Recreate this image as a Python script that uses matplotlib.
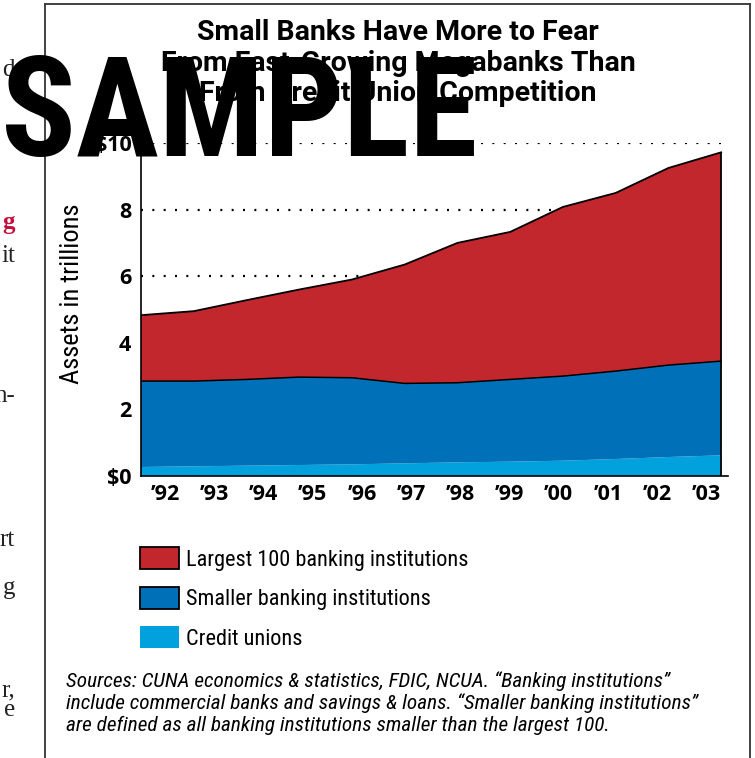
"""Stacked area chart: bank and credit union assets, 1992-2003."""
import numpy as np
import matplotlib.pyplot as plt
from matplotlib.patches import Patch
from matplotlib.lines import Line2D

# Values (trillions of dollars).
year_labels = ["\u201992", "\u201993", "\u201994", "\u201995", "\u201996", "\u201997",
               "\u201998", "\u201999", "\u201900", "\u201901", "\u201902", "\u201903"]
credit_unions = [0.27, 0.29, 0.31, 0.33, 0.35, 0.38, 0.41, 0.43, 0.46, 0.51, 0.57, 0.62]
smaller_banks = [2.58, 2.56, 2.59, 2.64, 2.60, 2.40, 2.39, 2.47, 2.54, 2.64, 2.76, 2.83]
largest_100 = [1.98, 2.10, 2.38, 2.63, 2.95, 3.57, 4.20, 4.43, 5.08, 5.35, 5.92, 6.27]
y_ticks = [0, 2, 4, 6, 8, 10]
y_tick_labels = ["$0", "2", "4", "6", "8", "$10"]
legend_labels = ["Largest 100 banking institutions", "Smaller banking institutions",
                 "Credit unions"]
# Cut-off text of the neighbouring article on the left edge.
side_words = ["d", "g", "it", "n-", "rt", "g", "r,", "e"]
side_rows = [70, 222, 256, 396, 540, 588, 690, 710]

RED = "#c1272d"
BLUE = "#0071b8"
LIGHT = "#00a1dc"
NARROW = ["Roboto Condensed", "Liberation Sans Narrow", "DejaVu Sans"]
PLAIN = ["Roboto", "DejaVu Sans"]
BOLD_SANS = ["Open Sans", "DejaVu Sans"]

W, H = 755, 758
fig = plt.figure(figsize=(W / 100, H / 100), dpi=100)


def fx(px):
    return px / W


def fy(py):
    return 1 - py / H


x = np.arange(len(year_labels))
ax = fig.add_axes([fx(141), fy(476), fx(728 - 141), (476 - 143) / H])
ax.stackplot(x, credit_unions, smaller_banks, largest_100,
             colors=[LIGHT, BLUE, RED], linewidth=0, zorder=2)

# Black outlines on the two upper boundaries and the right edge.
blue_top = np.array(credit_unions) + np.array(smaller_banks)
total = blue_top + np.array(largest_100)
ax.plot(x, blue_top, color="black", lw=1.1, zorder=3)
ax.plot(x, total, color="black", lw=1.3, zorder=3)
ax.vlines(x[-1], 0, total[-1], color="black", lw=1.3, zorder=3)

ax.set_xlim(0, 11.13)
ax.set_ylim(0, 10)
ax.set_yticks(y_ticks)
ax.set_yticklabels(y_tick_labels)
ax.set_xticks(np.linspace(0.455, 10.72, len(year_labels)))
ax.set_xticklabels(year_labels)
ax.tick_params(length=0, labelsize=15.5)
ax.tick_params(axis="y", pad=7)
ax.tick_params(axis="x", pad=6)
for lab in ax.get_xticklabels() + ax.get_yticklabels():
    lab.set_family(BOLD_SANS)
    lab.set_fontweight("bold")

ax.grid(axis="y", color="black", lw=1.6, linestyle=(0, (0.9, 4.2)), zorder=0)
ax.set_axisbelow(True)
for side in ["top", "right"]:
    ax.spines[side].set_visible(False)
for side in ["left", "bottom"]:
    ax.spines[side].set_linewidth(1.2)
    ax.spines[side].set_zorder(4)

fig.text(fx(72), fy(294), "Assets in trillions", rotation=90, ha="center",
         va="center", fontsize=19, family=NARROW)

fig.text(fx(398), fy(19), "Small Banks Have More to Fear\n"
         "From Fast-Growing Megabanks Than\nFrom Credit Union Competition",
         ha="center", va="top", fontsize=20.5, family=PLAIN, fontweight="bold",
         linespacing=1.17)

handles = [Patch(facecolor=RED, edgecolor="black", linewidth=1.3),
           Patch(facecolor=BLUE, edgecolor="black", linewidth=1.3),
           Patch(facecolor=LIGHT, edgecolor="none")]
fig.legend(handles, legend_labels, loc="upper left",
           bbox_to_anchor=(fx(120), fy(527)), frameon=False,
           prop={"family": NARROW, "size": 16}, handlelength=1.75,
           handleheight=1.15, labelspacing=0.72, handletextpad=0.3)

fig.text(fx(66), fy(671),
         "Sources: CUNA economics & statistics, FDIC, NCUA. \u201cBanking institutions\u201d\n"
         "include commercial banks and savings & loans. \u201cSmaller banking institutions\u201d\n"
         "are defined as all banking institutions smaller than the largest 100.",
         ha="left", va="top", fontsize=15.3, family=NARROW, style="italic",
         linespacing=1.17)

# Frame of the chart box.
fig.add_artist(Line2D([fx(45), fx(750)], [fy(4), fy(4)], color="#333333", lw=1.3))
fig.add_artist(Line2D([fx(45), fx(45)], [fy(4), 0], color="#333333", lw=1.3))
fig.add_artist(Line2D([fx(750), fx(750)], [fy(4), 0], color="#333333", lw=1.3))

for word, row in zip(side_words, side_rows):
    color = "#c4103f" if row == 222 else "#222222"
    fig.text(fx(15), fy(row), word, ha="right", va="center", fontsize=18,
             family=["Liberation Serif", "DejaVu Serif"], color=color,
             fontweight="bold" if row == 222 else "normal")

fig.text(fx(1), fy(156), "SAMPLE", ha="left", va="baseline", fontsize=100,
         family=NARROW, fontweight="black", color="black", zorder=10)

fig.savefig("out.png", dpi=100)
